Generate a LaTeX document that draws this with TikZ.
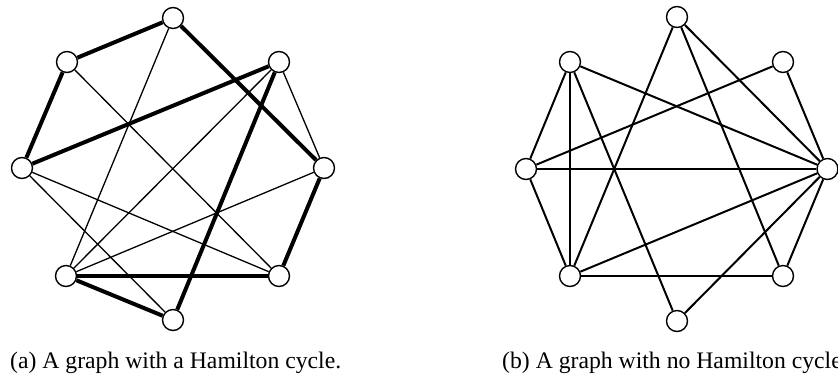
\documentclass[tikz,border=0pt]{standalone}
\usepackage{fontspec}
\setmainfont{Liberation Serif}
\begin{document}
\begin{tikzpicture}[x=1pt,y=-1pt,
  vtx/.style={circle,draw,fill=white,minimum size=21pt,inner sep=0pt,line width=1.4pt},
  thinedge/.style={line width=1.3pt},
  hamedge/.style={line width=4pt},
  bedge/.style={line width=2pt},
  captext/.style={anchor=base west,inner sep=0pt,font=\fontsize{23.7}{27}\selectfont}]
\useasboundingbox (0,0) rectangle (838,376);
\clip (0,0) rectangle (838,376);
% graph (a)
\node[vtx] (aT)  at (173,18) {};
\node[vtx] (aUL) at (67,62) {};
\node[vtx] (aUR) at (279,62) {};
\node[vtx] (aL)  at (22,168) {};
\node[vtx] (aR)  at (324,168) {};
\node[vtx] (aLL) at (66,276) {};
\node[vtx] (aLR) at (279,276) {};
\node[vtx] (aB)  at (173,320) {};
\draw[thinedge] (aT) -- (aLL);
\draw[thinedge] (aUL) -- (aLR);
\draw[thinedge] (aUR) -- (aR);
\draw[thinedge] (aUR) -- (aLL);
\draw[thinedge] (aL) -- (aLR);
\draw[thinedge] (aL) -- (aB);
\draw[thinedge] (aR) -- (aLL);
\draw[hamedge] (aT) -- (aUL);
\draw[hamedge] (aUL) -- (aL);
\draw[hamedge] (aL) -- (aUR);
\draw[hamedge] (aUR) -- (aB);
\draw[hamedge] (aB) -- (aLL);
\draw[hamedge] (aLL) -- (aLR);
\draw[hamedge] (aLR) -- (aR);
\draw[hamedge] (aR) -- (aT);
% graph (b)
\node[vtx] (bT)  at (677,17) {};
\node[vtx] (bUL) at (570,62) {};
\node[vtx] (bUR) at (783,62) {};
\node[vtx] (bL)  at (526,169) {};
\node[vtx] (bR)  at (827.5,169) {};
\node[vtx] (bLL) at (570,276) {};
\node[vtx] (bLR) at (783,276) {};
\node[vtx] (bB)  at (677,321) {};
\draw[bedge] (bUL) -- (bL);
\draw[bedge] (bL) -- (bLL);
\draw[bedge] (bUL) -- (bLL);
\draw[bedge] (bUL) -- (bR);
\draw[bedge] (bUL) -- (bB);
\draw[bedge] (bT) -- (bLL);
\draw[bedge] (bT) -- (bLR);
\draw[bedge] (bT) -- (bR);
\draw[bedge] (bUR) -- (bL);
\draw[bedge] (bUR) -- (bR);
\draw[bedge] (bL) -- (bR);
\draw[bedge] (bLL) -- (bR);
\draw[bedge] (bLL) -- (bLR);
\draw[bedge] (bR) -- (bLR);
\draw[bedge] (bR) -- (bB);
% captions
\node[captext] (capa) at (10,368) {(a) A graph with a Hamilton cycle.};
\node[captext] (capb) at (502,368) {(b) A graph with no Hamilton cycle.};
\end{tikzpicture}
\end{document}
